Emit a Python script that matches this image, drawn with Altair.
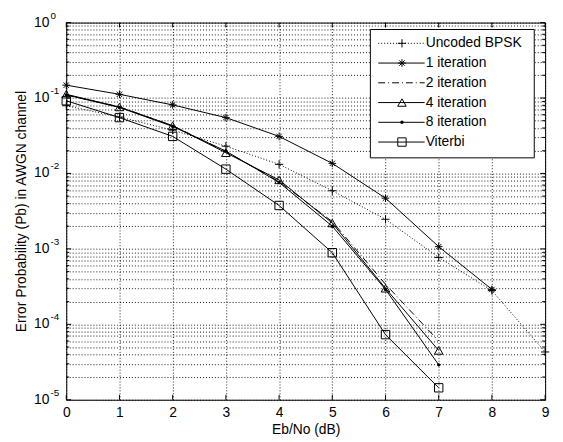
import altair as alt
import pandas as pd

# ---------------- data ----------------
eb_no = [0, 1, 2, 3, 4, 5, 6, 7, 8, 9]
uncoded = [0.079, 0.056, 0.0375, 0.023, 0.0132, 0.0059, 0.00247, 7.7e-4, 2.8e-4, 4.3e-5]
iter1 = [0.148, 0.112, 0.081, 0.055, 0.031, 0.0136, 0.0047, 0.00107, 2.9e-4]
iter2 = [0.110, 0.076, 0.043, 0.0195, 0.0078, 0.0023, 3.4e-4, 6.0e-5]
iter4 = [0.112, 0.076, 0.043, 0.0188, 0.0082, 0.0022, 3.0e-4, 4.5e-5]
iter8 = [0.110, 0.075, 0.042, 0.0198, 0.0076, 0.0020, 2.9e-4, 2.9e-5]
viterbi = [0.092, 0.055, 0.031, 0.0114, 0.00376, 0.00089, 7.3e-5, 1.44e-5]

series_names = ["Uncoded BPSK", "1 iteration", "2 iteration", "4 iteration", "8 iteration", "Viterbi"]
x_ticks = [0, 1, 2, 3, 4, 5, 6, 7, 8, 9]
y_major = [1, 1e-1, 1e-2, 1e-3, 1e-4, 1e-5]
y_exponents = ["0", "-1", "-2", "-3", "-4", "-5"]
minor_mult = [2, 3, 4, 5, 6, 7, 8, 9]

# ---------------- styling ----------------
W, H = 485, 382
FONT = "Liberation Sans"
FS = 14

PLUS = "M-1,0L1,0M0,-1L0,1"
STAR = "M-1,0L1,0M0,-1L0,1M-0.7,-0.7L0.7,0.7M-0.7,0.7L0.7,-0.7"
DOTTED = [1, 2]
DASHDOT = [7, 3, 1, 3]

y_minor = [m * v for v in y_major[1:] for m in minor_mult]
y_grid_vals = sorted(y_major + y_minor)

xs = alt.Scale(domain=[0, 9], nice=False, zero=False)
ys = alt.Scale(type="log", domain=[1e-5, 1], nice=False)

x_axis = alt.Axis(values=x_ticks, grid=True, gridDash=[1, 2], gridColor="#000",
                  gridOpacity=0.9, ticks=False, tickSize=0, domain=False,
                  labelFont=FONT, labelFontSize=FS, labelColor="#000",
                  labelPadding=6, labelFlush=False,
                  title="Eb/No (dB)", titleFont=FONT, titleFontSize=FS,
                  titleFontWeight="normal", titleColor="#000", titlePadding=3)
y_axis = alt.Axis(values=y_grid_vals, grid=True, gridDash=[1, 2], gridColor="#000",
                  gridOpacity=0.9, ticks=False, tickSize=0, domain=False, labels=False,
                  title="Error Probability (Pb) in AWGN channel", titleFont=FONT,
                  titleFontSize=FS, titleFontWeight="normal", titleColor="#000",
                  titleX=-45, titleY=H / 2, titleAngle=270, titleBaseline="middle",
                  titleAlign="center")

X = alt.X("x:Q", scale=xs, axis=x_axis)
Y = alt.Y("y:Q", scale=ys, axis=y_axis)

layers = []

# ticks (inside the box) on all four sides
xt = pd.DataFrame({"x": x_ticks})
layers.append(alt.Chart(xt).mark_rule(color="black", strokeWidth=1).encode(
    x=X, y=alt.value(H), y2=alt.value(H - 5)))
layers.append(alt.Chart(xt).mark_rule(color="black", strokeWidth=1).encode(
    x=X, y=alt.value(0), y2=alt.value(5)))
ymaj = pd.DataFrame({"y": y_major})
ymin = pd.DataFrame({"y": y_minor})
for df, ln in [(ymaj, 5), (ymin, 3)]:
    layers.append(alt.Chart(df).mark_rule(color="black", strokeWidth=1).encode(
        y=Y, x=alt.value(0), x2=alt.value(ln)))
    layers.append(alt.Chart(df).mark_rule(color="black", strokeWidth=1).encode(
        y=Y, x=alt.value(W), x2=alt.value(W - ln)))

# y tick labels 10^k
lab = pd.DataFrame({"y": y_major, "e": y_exponents})
layers.append(alt.Chart(lab).mark_text(align="right", baseline="middle", font=FONT,
                                       fontSize=FS, color="black").encode(
    y=Y, x=alt.value(-17), text=alt.value("10")))
layers.append(alt.Chart(lab).mark_text(align="left", baseline="middle", font=FONT,
                                       fontSize=10, color="black", dy=-7).encode(
    y=Y, x=alt.value(-16), text="e:N"))

series = [
    (series_names[0], uncoded, DOTTED, dict(shape=PLUS, size=70, filled=False)),
    (series_names[1], iter1, None, dict(shape=STAR, size=60, filled=False)),
    (series_names[2], iter2, DASHDOT, None),
    (series_names[3], iter4, None, dict(shape="triangle-up", size=75, filled=False)),
    (series_names[4], iter8, None, dict(shape="circle", size=12, filled=True)),
    (series_names[5], viterbi, None, dict(shape="square", size=72, filled=False)),
]

for name, vals, dash, mk in series:
    df = pd.DataFrame({"x": eb_no[:len(vals)], "y": vals})
    lk = dict(color="black", strokeWidth=1)
    if dash is not None:
        lk["strokeDash"] = dash
    layers.append(alt.Chart(df).mark_line(**lk).encode(x=X, y=Y))

for name, vals, dash, mk in series:
    if mk is None:
        continue
    df = pd.DataFrame({"x": eb_no[:len(vals)], "y": vals})
    layers.append(alt.Chart(df).mark_point(color="black", strokeWidth=1, opacity=1, **mk)
                  .encode(x=X, y=Y))

# legend box
one = pd.DataFrame({"k": [0]})
layers.append(alt.Chart(one).mark_rect(fill="white", stroke="black", strokeWidth=1).encode(
    x=alt.value(308), x2=alt.value(474), y=alt.value(7), y2=alt.value(137)))
for i, (name, vals, dash, mk) in enumerate(series):
    yv = 21 + 20 * i
    lk = dict(color="black", strokeWidth=1)
    if dash is not None:
        lk["strokeDash"] = dash
    layers.append(alt.Chart(one).mark_rule(**lk).encode(
        x=alt.value(316), x2=alt.value(363), y=alt.value(yv)))
    if mk is not None:
        layers.append(alt.Chart(one).mark_point(color="black", strokeWidth=1, opacity=1, **mk)
                      .encode(x=alt.value(340), y=alt.value(yv)))
    layers.append(alt.Chart(one).mark_text(align="left", baseline="middle", font=FONT,
                                           fontSize=FS, color="black").encode(
        x=alt.value(364), y=alt.value(yv), text=alt.value(name)))

chart = alt.layer(*layers).properties(
    width=W, height=H,
    autosize=alt.AutoSizeParams(type="none"),
    padding={"left": 59, "top": 12, "right": 10, "bottom": 38},
    background="white",
).configure_view(stroke="black", strokeWidth=1)

chart.save("out.html", embed_options={"renderer": "svg", "actions": False})
